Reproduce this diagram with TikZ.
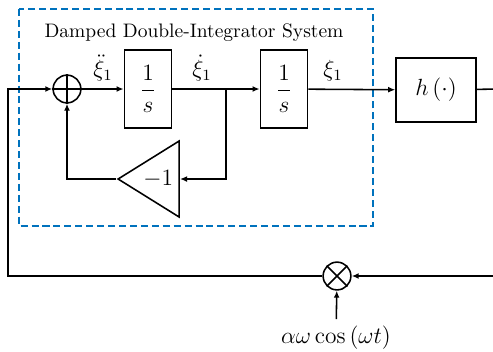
\documentclass[tikz,border=0pt]{standalone}
\usepackage{tikz}
\usetikzlibrary{arrows.meta,shapes.geometric}
\definecolor{boxblue}{RGB}{0,114,189}

\begin{document}
\begin{tikzpicture}[x=0.018cm, y=-0.018cm, line width=0.8pt,
        >={Latex[length=3.6pt,width=3pt]},
        block/.style={draw, minimum width=0.85cm, minimum height=1.4cm, inner sep=0pt, font=\large},
        junction/.style={draw, circle, minimum size=0.5cm, inner sep=0pt},
        gain/.style={draw, isosceles triangle, isosceles triangle stretches,
            shape border rotate=180, minimum width=1.37cm, minimum height=1.1cm,
            inner sep=0pt, font=\large},
        sig/.style={font=\large, inner sep=1pt, anchor=south}]
        \clip (0,0) rectangle (493,351);

        % system boundary
        \draw[boxblue, dash pattern=on 3.6pt off 2pt] (19,9) rectangle (373,226);
        \node (title) at (194,33) {Damped Double-Integrator System};

        % blocks
        \node[junction] (sum) at (67,89) {};
        \draw (sum.north) -- (sum.south) (sum.west) -- (sum.east);
        \node[block] (int1) at (148,89) {$\displaystyle\frac{1}{s}$};
        \node[block] (int2) at (284,89) {$\displaystyle\frac{1}{s}$};
        \node[block, minimum width=1.44cm, minimum height=1.15cm] (h) at (436,90) {$h\left(\cdot\right)$};
        \node[gain, anchor=east] (gain) at (180,179) {$-1$};
        \node[junction] (mul) at (337,276) {};
        \draw (mul.45) -- (mul.225) (mul.135) -- (mul.315);

        % signals
        \node[sig] (xdd) at (103,84) {$\ddot{\xi}_1$};
        \node[sig] (xd) at (202,84) {$\dot{\xi}_1$};
        \node[sig] (x) at (333,84) {$\xi_1$};
        \node[font=\large] (dither) at (336,338) {$\alpha\omega\cos\left(\omega t\right)$};

        \coordinate (split) at (226,89);
        \coordinate (rt) at (500,89);
        \coordinate (lt) at (8,276);

        \draw[->] (sum) -- (int1);
        \draw (int1) -- (split);
        \draw[->] (split) -- (int2);
        \draw[->] (split) |- (gain);
        \draw[->] (gain) -| (sum);
        \draw[->] (int2) -- (h);
        \draw[->] (h) -- (rt) |- (mul);
        \draw[->] (mul) -- (lt) |- (sum);
        \draw[->] (dither) -- (mul);
    \end{tikzpicture}
\end{document}
